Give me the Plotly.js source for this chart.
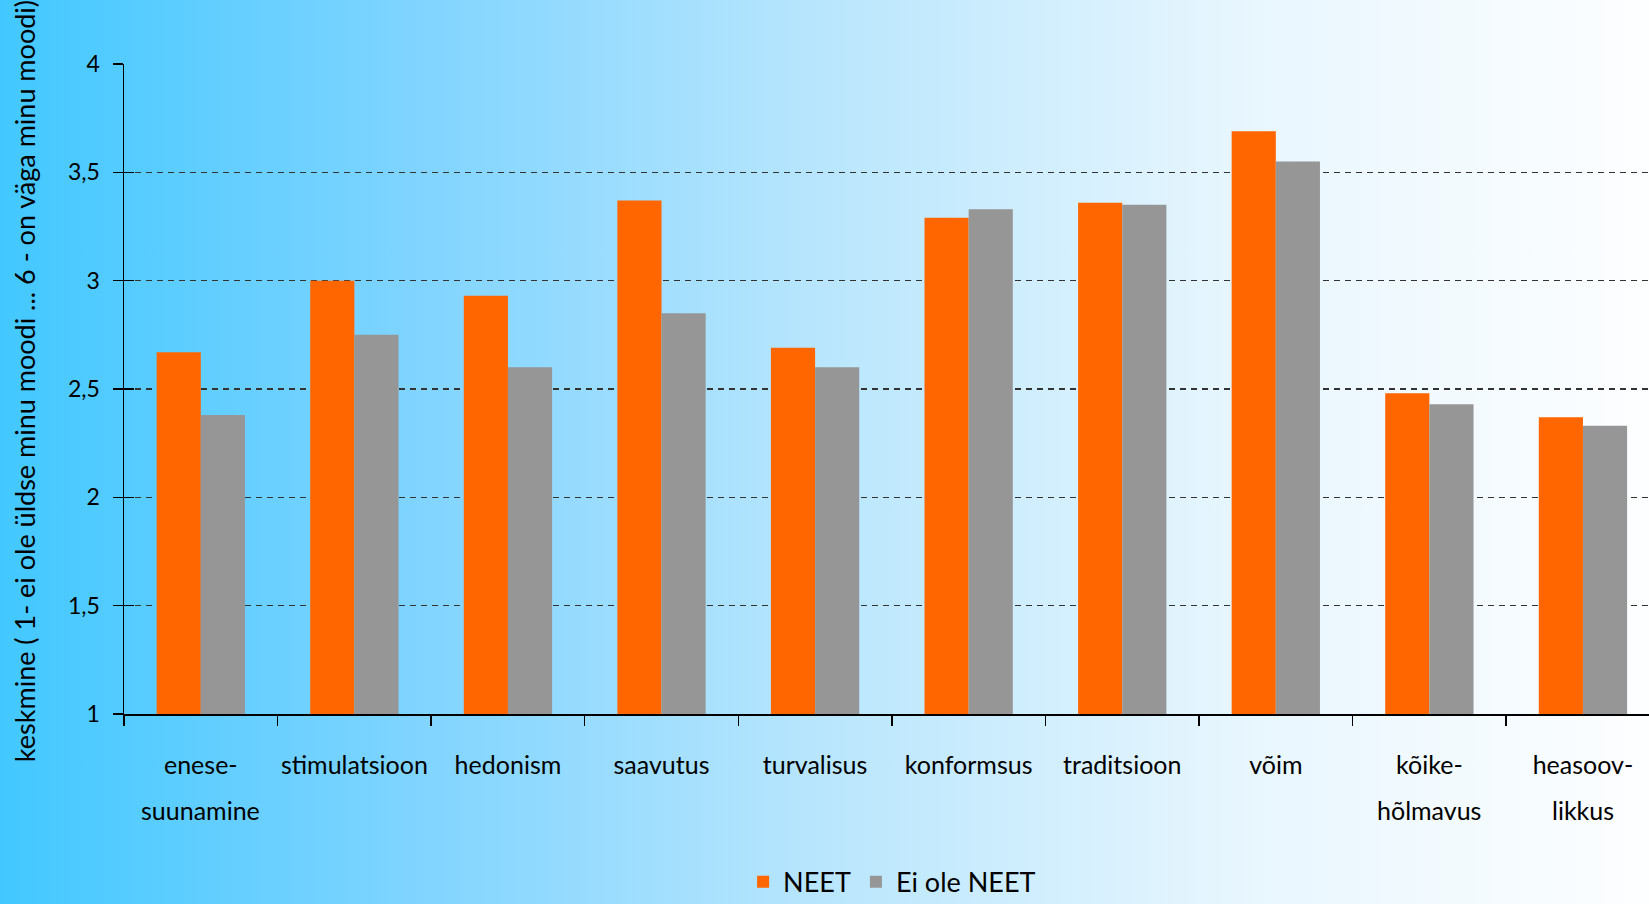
<!DOCTYPE html>
<html>
<head>
<meta charset="utf-8">
<script src="https://cdn.plot.ly/plotly-3.0.1.min.js"></script>
<style>
  html, body { margin: 0; padding: 0; }
  body {
    width: 1649px; height: 904px; overflow: hidden;
    background: linear-gradient(to right, #42C8FF 0%, #7FD4FF 25%, #B9E6FD 50%, #E7F6FE 75%, #FDFEFF 100%);
  }
  #chart { width: 1649px; height: 904px; }
</style>
</head>
<body>
<div id="chart"></div>
<script>
// Categories (first and second line of each label)
const categories = ["enese-suunamine", "stimulatsioon", "hedonism", "saavutus", "turvalisus",
                    "konformsus", "traditsioon", "võim", "kõike-hõlmavus", "heasoov-likkus"];
const labelLine1 = ["enese-", "stimulatsioon", "hedonism", "saavutus", "turvalisus",
                    "konformsus", "traditsioon", "võim", "kõike-", "heasoov-"];
const labelLine2 = ["suunamine", "", "", "", "", "", "", "", "hõlmavus", "likkus"];

// Series values
const neet    = [2.67, 3.00, 2.93, 3.37, 2.69, 3.29, 3.36, 3.69, 2.48, 2.37];
const eiNeet  = [2.38, 2.75, 2.60, 2.85, 2.60, 3.33, 3.35, 3.55, 2.43, 2.33];

const seriesNames = ["NEET", "Ei ole NEET"];
const yTitle = "keskmine ( 1- ei ole üldse minu moodi ... 6 - on väga minu moodi)";

const FONT = "Lato, 'Open Sans', sans-serif";

const traces = [
  { type: "bar", name: seriesNames[0], x: categories, y: neet,
    marker: { color: "#FF6600" }, hoverinfo: "y" },
  { type: "bar", name: seriesNames[1], x: categories, y: eiNeet,
    marker: { color: "#969696" }, hoverinfo: "y" },
  // invisible helper so the crossing tick axis is drawn
  { type: "scatter", mode: "markers", x: [categories[0]], y: [1], yaxis: "y2",
    marker: { opacity: 0 }, showlegend: false, hoverinfo: "skip" }
];

const annotations = [
  { text: yTitle, xref: "paper", yref: "paper", x: -0.0656, y: 0.512,
    textangle: -90, xanchor: "center", yanchor: "middle", showarrow: false,
    font: { family: FONT, size: 27, color: "#000" } }
];
categories.forEach((c, i) => {
  if (labelLine2[i]) {
    annotations.push({ text: labelLine2[i], xref: "x", yref: "paper", x: c, y: -0.148,
      xanchor: "center", yanchor: "middle", showarrow: false,
      font: { family: FONT, size: 25, color: "#000" } });
  }
});

const layout = {
  width: 1649, height: 904,
  margin: { l: 124, r: 0, t: 64, b: 190 },
  paper_bgcolor: "rgba(0,0,0,0)",
  plot_bgcolor: "rgba(0,0,0,0)",
  separators: ", ",
  barmode: "group",
  bargap: 0.425,
  bargroupgap: 0,
  showlegend: true,
  legend: { orientation: "h", xref: "container", x: 0.541, xanchor: "center",
            yref: "container", y: 0.024, yanchor: "middle",
            font: { family: FONT, size: 27, color: "#000" }, bgcolor: "rgba(0,0,0,0)",
            itemwidth: 30, tracegroupgap: 0 },
  font: { family: FONT, size: 22, color: "#000" },
  xaxis: {
    type: "category",
    range: [-0.5, 9.43],
    tickmode: "array", tickvals: categories, ticktext: labelLine1,
    tickangle: 0,
    tickson: "boundaries",
    ticks: "outside", ticklen: 10, tickcolor: "#000", tickwidth: 1.5,
    showline: true, linecolor: "#000", linewidth: 1.5,
    showgrid: false, zeroline: false,
    ticklabelstandoff: 28,
    tickfont: { family: FONT, size: 25, color: "#000" },
    fixedrange: true
  },
  yaxis: {
    range: [1, 4], dtick: 0.5, tick0: 1,
    ticks: "outside", ticklen: 10, tickcolor: "#000", tickwidth: 1.5,
    showline: true, linecolor: "#000", linewidth: 1.5,
    showgrid: true, gridcolor: "#333333", gridwidth: 1.5, griddash: "6px,5px",
    zeroline: false,
    tickfont: { family: FONT, size: 23, color: "#000" },
    ticklabelstandoff: 8,
    fixedrange: true
  },
  yaxis2: {
    overlaying: "y", side: "left", range: [1, 4], dtick: 0.5, tick0: 1,
    ticks: "inside", ticklen: 10, tickcolor: "#000", tickwidth: 1.5,
    showticklabels: false, showgrid: false, zeroline: false, showline: false,
    fixedrange: true
  },
  annotations: annotations
};

Plotly.newPlot("chart", traces, layout, { displayModeBar: false, staticPlot: true });
</script>
</body>
</html>
